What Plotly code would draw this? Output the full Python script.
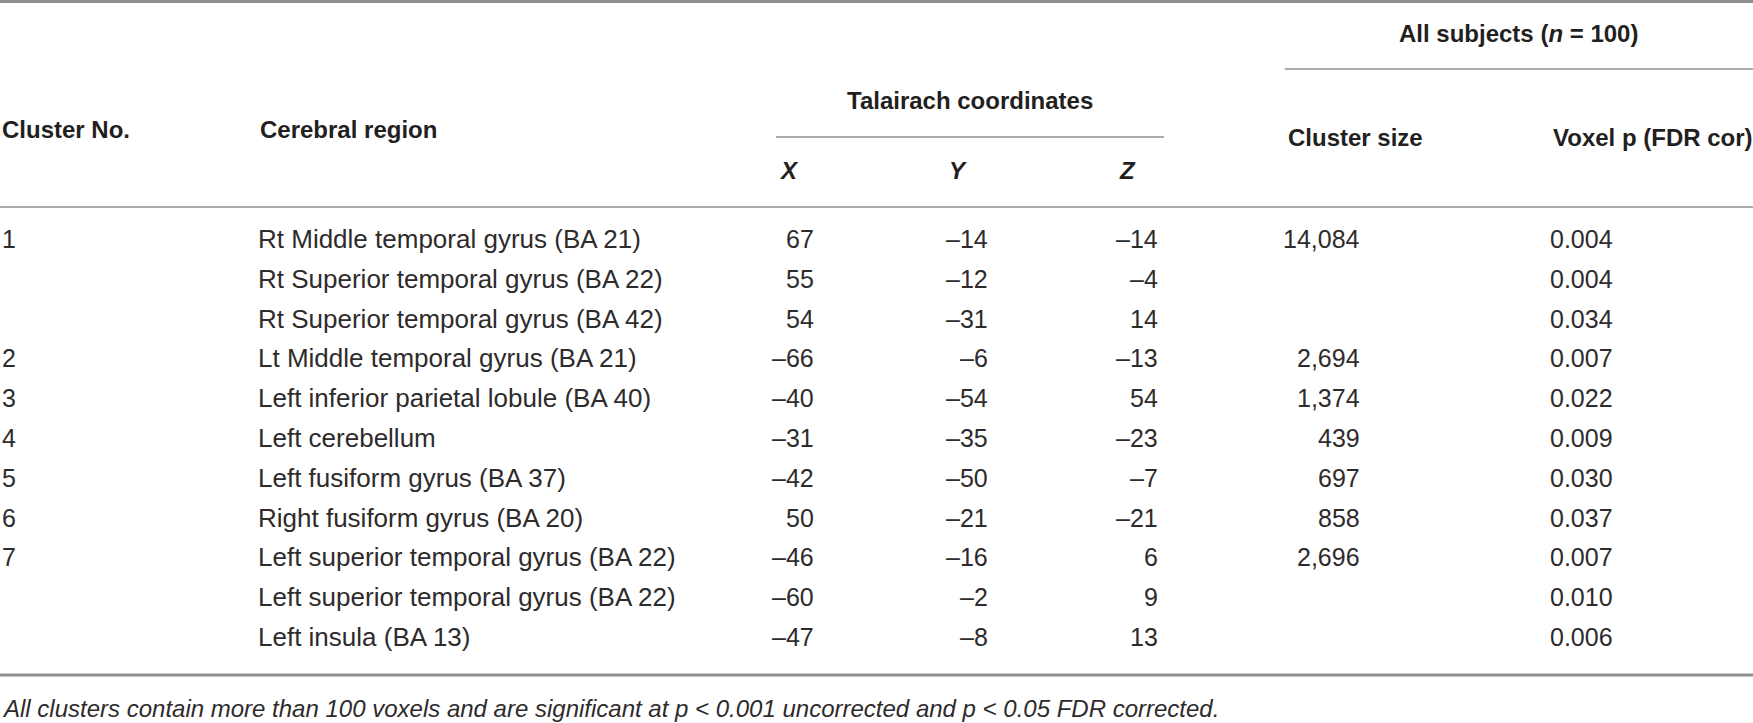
import plotly.graph_objects as go

# table data
cluster_no = ["1", "", "", "2", "3", "4", "5", "6", "7", "", ""]
regions = [
    "Rt Middle temporal gyrus (BA 21)",
    "Rt Superior temporal gyrus (BA 22)",
    "Rt Superior temporal gyrus (BA 42)",
    "Lt Middle temporal gyrus (BA 21)",
    "Left inferior parietal lobule (BA 40)",
    "Left cerebellum",
    "Left fusiform gyrus (BA 37)",
    "Right fusiform gyrus (BA 20)",
    "Left superior temporal gyrus (BA 22)",
    "Left superior temporal gyrus (BA 22)",
    "Left insula (BA 13)",
]
tal_x = [67, 55, 54, -66, -40, -31, -42, 50, -46, -60, -47]
tal_y = [-14, -12, -31, -6, -54, -35, -50, -21, -16, -2, -8]
tal_z = [-14, -4, 14, -13, 54, -23, -7, -21, 6, 9, 13]
cluster_size = ["14,084", "", "", "2,694", "1,374", "439", "697", "858", "2,696", "", ""]
voxel_p = ["0.004", "0.004", "0.034", "0.007", "0.022", "0.009", "0.030", "0.037", "0.007", "0.010", "0.006"]
footnote = ("All clusters contain more than 100 voxels and are significant at "
            "p < 0.001 uncorrected and p < 0.05 FDR corrected.")

W, H = 1753, 723
FONT = "Liberation Sans, Arial, sans-serif"
TXT = "#231f20"
BODY = "#2e2b2c"
LINE = "#8f8f8f"
ROW0, ROWH = 239, 39.8


def fmt(v):
    # typographic minus like the journal layout
    return str(v).replace("-", "\u2013")


annotations = []


def add(text, x, y, anchor="left", bold=False, italic=False, size=25, color=TXT):
    annotations.append(dict(
        x=x, y=y, xref="x", yref="y", text=text, showarrow=False,
        xanchor=anchor, yanchor="middle",
        font=dict(family=FONT, size=size, color=color,
                  weight="bold" if bold else "normal",
                  style="italic" if italic else "normal"),
    ))


# header
HS = 24
add("All subjects (<i>n</i> = 100)", 1518, 33, anchor="center", bold=True, size=HS)
add("Talairach coordinates", 970, 100, anchor="center", bold=True, size=HS)
add("Cluster No.", 0, 129, bold=True, size=HS)
add("Cerebral region", 258, 129, bold=True, size=HS)
add("Cluster size", 1286, 137, bold=True, size=HS)
add("Voxel p (FDR cor)", 1551, 137, bold=True, size=HS)
add("X", 777, 170, bold=True, italic=True, size=HS)
add("Y", 947, 170, bold=True, italic=True, size=HS)
add("Z", 1117, 170, bold=True, italic=True, size=HS)

# body rows
for i in range(len(regions)):
    y = ROW0 + i * ROWH
    add(cluster_no[i], 0, y, color=BODY)
    add(regions[i], 256, y, size=26, color=BODY)
    add(fmt(tal_x[i]), 816, y, anchor="right", color=BODY)
    add(fmt(tal_y[i]), 990, y, anchor="right", color=BODY)
    add(fmt(tal_z[i]), 1160, y, anchor="right", color=BODY)
    add(cluster_size[i], 1362, y, anchor="right", color=BODY)
    add(voxel_p[i], 1548, y, color=BODY)

add(footnote.replace("p <", "<i>p</i> <"), 0, 708, italic=True, size=24, color=BODY)

shapes = [
    dict(type="line", x0=0, x1=W, y0=1.5, y1=1.5, line=dict(color=LINE, width=3)),
    dict(type="line", x0=1285, x1=W, y0=69, y1=69, line=dict(color=LINE, width=1.5)),
    dict(type="line", x0=776, x1=1164, y0=137, y1=137, line=dict(color=LINE, width=1.5)),
    dict(type="line", x0=0, x1=W, y0=207, y1=207, line=dict(color=LINE, width=1.5)),
    dict(type="line", x0=0, x1=W, y0=675, y1=675, line=dict(color=LINE, width=3)),
]

fig = go.Figure()
fig.update_layout(
    width=W, height=H,
    margin=dict(l=0, r=0, t=0, b=0),
    paper_bgcolor="white", plot_bgcolor="white",
    xaxis=dict(range=[0, W], visible=False, fixedrange=True),
    yaxis=dict(range=[H, 0], visible=False, fixedrange=True),
    annotations=annotations,
    shapes=shapes,
    showlegend=False,
)

# drop the default page margin so the table sits flush at the window edge
fig.write_html(
    "out.html",
    config={"displayModeBar": False},
    post_script="document.body.style.margin='0';document.body.style.overflow='hidden';",
)
